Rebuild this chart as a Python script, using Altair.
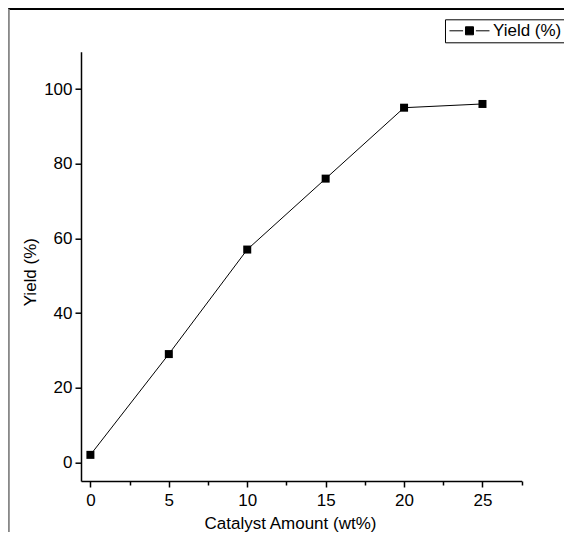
import altair as alt
import pandas as pd

catalyst = [0, 5, 10, 15, 20, 25]
yield_pct = [2, 29, 57, 76, 95, 96]
series = ["Yield (%)"] * len(catalyst)

x_ticks = [0, 2.5, 5, 7.5, 10, 12.5, 15, 17.5, 20, 22.5, 25, 27.5]
y_ticks = [0, 10, 20, 30, 40, 50, 60, 70, 80, 90, 100, 110]

df = pd.DataFrame({"x": catalyst, "y": yield_pct, "s": series})

FONT = "Liberation Sans"
FS = 17

xs = alt.Scale(domain=[-0.6, 27.5], nice=False, zero=False)
ys = alt.Scale(domain=[-5, 110], nice=False, zero=False)

x_axis = alt.Axis(
    values=x_ticks,
    labelExpr="datum.value % 5 === 0 ? datum.label : ''",
    tickSize={"condition": {"test": "datum.value % 5 === 0", "value": 6}, "value": 4},
    grid=False, domainColor="black", tickColor="black", domainWidth=1.5, tickWidth=1.5,
    labelFont=FONT, labelFontSize=FS, labelColor="black", labelPadding=6,
    title="Catalyst Amount (wt%)", titleFont=FONT, titleFontSize=FS, titleFontWeight="normal",
    titleColor="black", titleX=209, titleY=48, titleAlign="center", titleBaseline="alphabetic",
    labelFlush=False,
)
y_axis = alt.Axis(
    values=y_ticks,
    labelExpr="datum.value % 20 === 0 ? datum.label : ''",
    tickSize={"condition": {"test": "datum.value % 20 === 0", "value": 6}, "value": 4},
    grid=False, domainColor="black", tickColor="black", domainWidth=1.5, tickWidth=1.5,
    labelFont=FONT, labelFontSize=FS, labelColor="black", labelPadding=3,
    title="Yield (%)", titleFont=FONT, titleFontSize=FS, titleFontWeight="normal",
    titleColor="black", titleX=-50, titleY=220, titleAngle=-90, titleAlign="center",
    titleBaseline="middle", labelFlush=False,
)

color = alt.Color(
    "s:N",
    scale=alt.Scale(range=["black"]),
    legend=alt.Legend(
        title=None, orient="none", legendX=364, legendY=-32.4,
        symbolType="M-5,0L-1.6,0M1.6,0L5,0M-1,-1L1,-1L1,1L-1,1Z",
        symbolSize=64, symbolOffset=13, symbolFillColor="black", symbolStrokeColor="black",
        symbolStrokeWidth=1, labelFont=FONT, labelFontSize=FS, labelColor="black",
        labelOffset=15, padding=3, strokeColor="black", cornerRadius=0,
    ),
)

base = alt.Chart(df)
line = base.mark_line(color="black", strokeWidth=1).encode(
    x=alt.X("x:Q", scale=xs, axis=x_axis),
    y=alt.Y("y:Q", scale=ys, axis=y_axis),
    color=color,
)
pts = base.mark_square(size=64, filled=True, opacity=1, color="black").encode(
    x=alt.X("x:Q", scale=xs),
    y=alt.Y("y:Q", scale=ys),
)

frame_top = alt.Chart(df).mark_rule(color="black", strokeWidth=1.5).encode(
    x=alt.value(-72.5), x2=alt.value(520), y=alt.value(-42.5)
)
frame_left = alt.Chart(df).mark_rule(color="#888888", strokeWidth=1.5).encode(
    x=alt.value(-72.5), y=alt.value(-42.5), y2=alt.value(520)
)

chart = alt.layer(frame_top, frame_left, line, pts).properties(
    width=440.7, height=429.3,
    background="white",
    autosize=alt.AutoSizeParams(type="none"),
    padding={"left": 73, "top": 43.7, "right": 42, "bottom": 51},
).configure_view(strokeWidth=0)

chart.save("out.html", embed_options={"renderer": "svg", "actions": False})
